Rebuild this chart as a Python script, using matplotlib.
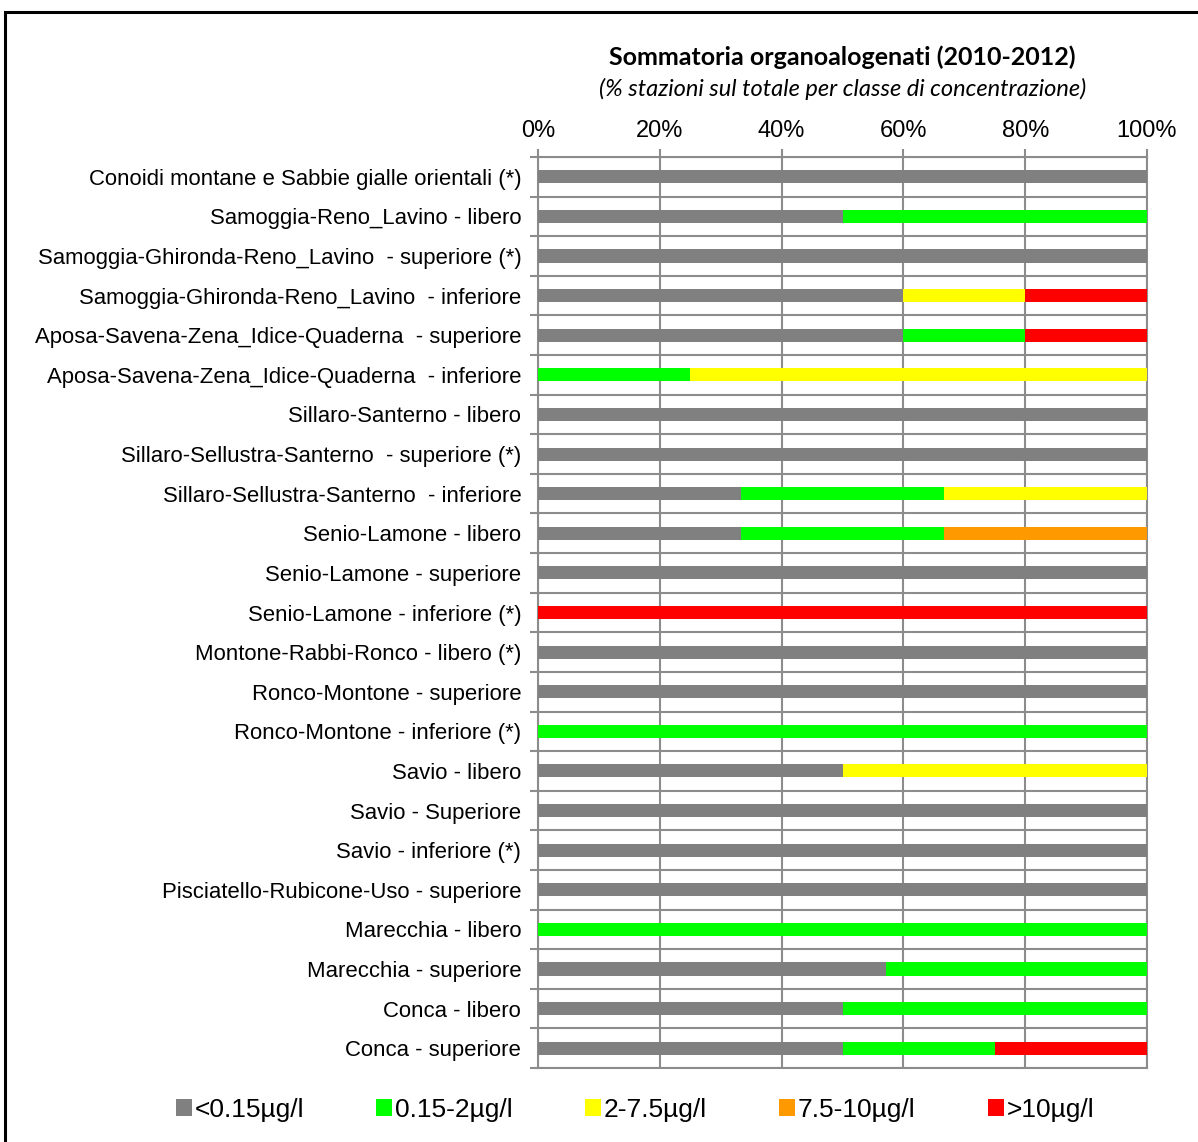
import matplotlib
matplotlib.use("Agg")
import matplotlib.pyplot as plt
from matplotlib.patches import Patch, Rectangle
import numpy as np

categories = [
    "Conoidi montane e Sabbie gialle orientali (*)",
    "Samoggia-Reno_Lavino - libero",
    "Samoggia-Ghironda-Reno_Lavino  - superiore (*)",
    "Samoggia-Ghironda-Reno_Lavino  - inferiore",
    "Aposa-Savena-Zena_Idice-Quaderna  - superiore",
    "Aposa-Savena-Zena_Idice-Quaderna  - inferiore",
    "Sillaro-Santerno - libero",
    "Sillaro-Sellustra-Santerno  - superiore (*)",
    "Sillaro-Sellustra-Santerno  - inferiore",
    "Senio-Lamone - libero",
    "Senio-Lamone - superiore",
    "Senio-Lamone - inferiore (*)",
    "Montone-Rabbi-Ronco - libero (*)",
    "Ronco-Montone - superiore",
    "Ronco-Montone - inferiore (*)",
    "Savio - libero",
    "Savio - Superiore",
    "Savio - inferiore (*)",
    "Pisciatello-Rubicone-Uso - superiore",
    "Marecchia - libero",
    "Marecchia - superiore",
    "Conca - libero",
    "Conca - superiore",
]

series_labels = ["<0.15µg/l", "0.15-2µg/l", "2-7.5µg/l", "7.5-10µg/l", ">10µg/l"]
series_colors = ["#808080", "#00FF00", "#FFFF00", "#FF9900", "#FF0000"]

lt_015 = [100, 50, 100, 60, 60, 0, 100, 100, 33.33, 33.33, 100, 0, 100, 100, 0, 50, 100, 100, 100, 0, 57.14, 50, 50]
c015_2 = [0, 50, 0, 0, 20, 25, 0, 0, 33.33, 33.33, 0, 0, 0, 0, 100, 0, 0, 0, 0, 100, 42.86, 50, 25]
c2_75 = [0, 0, 0, 20, 0, 75, 0, 0, 33.34, 0, 0, 0, 0, 0, 0, 50, 0, 0, 0, 0, 0, 0, 0]
c75_10 = [0, 0, 0, 0, 0, 0, 0, 0, 0, 33.34, 0, 0, 0, 0, 0, 0, 0, 0, 0, 0, 0, 0, 0]
gt_10 = [0, 0, 0, 20, 20, 0, 0, 0, 0, 0, 0, 100, 0, 0, 0, 0, 0, 0, 0, 0, 0, 0, 25]

series = [lt_015, c015_2, c2_75, c75_10, gt_10]

plt.rcParams["font.family"] = ["Liberation Sans", "DejaVu Sans"]

W, H = 1198, 1142
fig = plt.figure(figsize=(W / 100, H / 100), dpi=100)
fig.patch.set_facecolor("white")

# outer border (extends past right/bottom edges)
fig.patches.append(Rectangle((5 / W, -0.05), 1.2, 1 - 12 / H + 0.05, transform=fig.transFigure,
                             fill=False, edgecolor="black", linewidth=2.2, zorder=0))

ax = fig.add_axes([538 / W, 1 - 1068 / H, (1147 - 538) / W, (1068 - 157) / H])

y = np.arange(len(categories))
left = np.zeros(len(categories))
handles = []
for vals, lab, col in zip(series, series_labels, series_colors):
    v = np.array(vals, dtype=float)
    ax.barh(y, v, left=left, height=0.33, color=col, label=lab, zorder=3, linewidth=0)
    left += v
    handles.append(Patch(facecolor=col, edgecolor="none", label=lab))

ax.set_xlim(0, 100)
ax.set_ylim(len(categories) - 0.5, -0.5)
ax.set_yticks(y)
ax.set_yticklabels(categories, fontsize=15.9)
ax.set_yticks(np.arange(-0.5, len(categories), 1.0), minor=True)
ax.tick_params(axis="y", which="major", length=0, pad=12)
ax.tick_params(axis="y", which="minor", length=6, width=1.5, color="#8c8c8c", direction="out")

ax.set_xticks(np.arange(0, 101, 20))
ax.set_xticklabels([f"{t}%" for t in range(0, 101, 20)], fontsize=17)
ax.xaxis.tick_top()
ax.tick_params(axis="x", which="major", length=6, width=1.5, color="#8c8c8c", direction="out", pad=5)

ax.grid(axis="x", which="major", color="#8c8c8c", linewidth=1.5, zorder=1)
ax.grid(axis="y", which="minor", color="#8c8c8c", linewidth=1.5, zorder=1)
ax.set_axisbelow(True)
for s in ax.spines.values():
    s.set_color("#8c8c8c")
    s.set_linewidth(1.5)

cx = (538 + 1147) / 2 / W
fig.text(cx, 1 - 57 / H, "Sommatoria organoalogenati (2010-2012)", ha="center", va="center",
         fontsize=18, fontweight="bold", family=["Lato", "DejaVu Sans"])
fig.text(cx, 1 - 89 / H, "(% stazioni sul totale per classe di concentrazione)", ha="center", va="center",
         fontsize=17, style="italic", family=["Lato", "DejaVu Sans"])

fig.legend(handles=handles, loc="center", bbox_to_anchor=(0.530, 1 - 1110 / H), ncol=5,
           frameon=False, fontsize=19, handlelength=0.6, handleheight=0.6,
           handletextpad=0.1, columnspacing=2.75, borderaxespad=0)

fig.savefig("out.png", dpi=100, facecolor="white")
